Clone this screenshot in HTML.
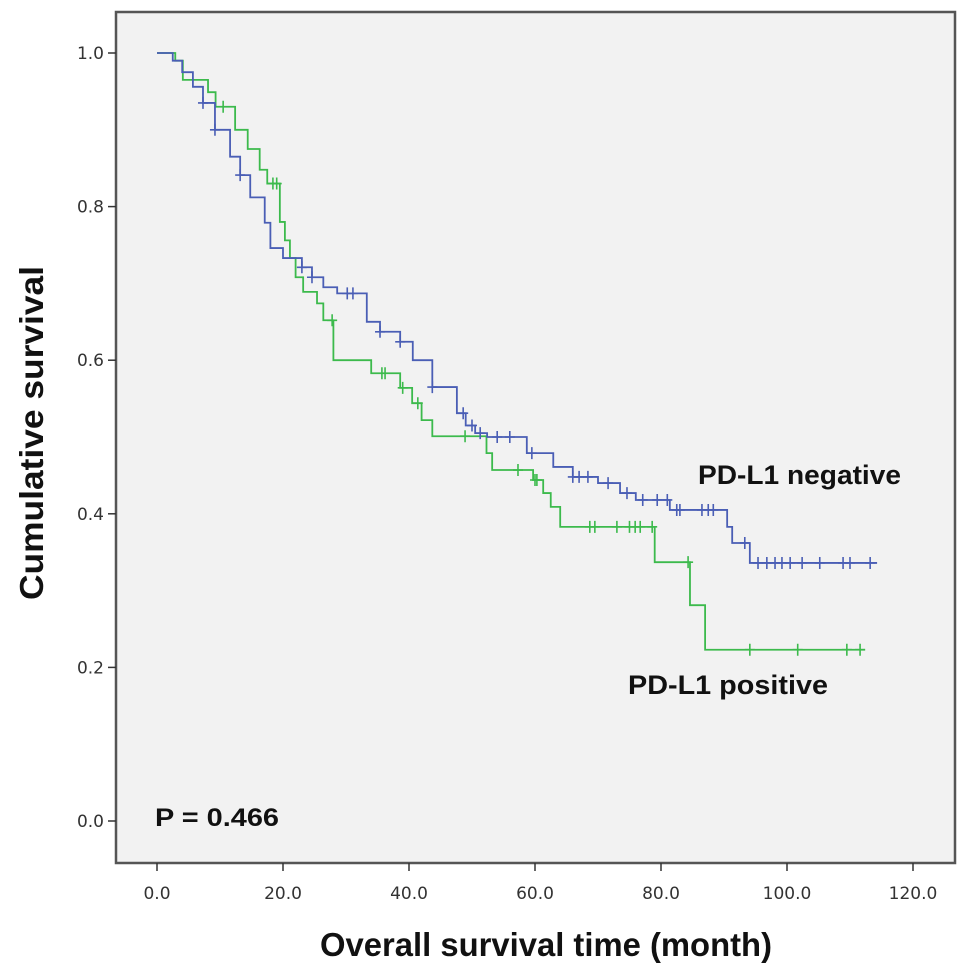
<!DOCTYPE html>
<html><head><meta charset="utf-8">
<style>
html,body{margin:0;padding:0;background:#fff;}
svg{display:block;font-family:"Liberation Sans",sans-serif;}
</style></head>
<body>
<svg id="chart" width="969" height="967" viewBox="0 0 969 967">
<rect x="116" y="12" width="839" height="851" fill="#f2f2f2" stroke="#555" stroke-width="2.5"/>
<g id="axes"></g>
<g id="series"></g>
<text x="698" y="484" font-size="27" font-weight="bold" fill="#111" textLength="203" lengthAdjust="spacingAndGlyphs">PD-L1 negative</text>
<text x="628" y="694" font-size="27" font-weight="bold" fill="#111" textLength="200" lengthAdjust="spacingAndGlyphs">PD-L1 positive</text>
<text x="155" y="826" font-size="25" font-weight="bold" fill="#111" textLength="124" lengthAdjust="spacingAndGlyphs">P = 0.466</text>
<text x="320" y="956" font-size="33" font-weight="bold" fill="#111" textLength="452" lengthAdjust="spacingAndGlyphs">Overall survival time (month)</text>
<text transform="translate(43,600) rotate(-90)" font-size="33" font-weight="bold" fill="#111" textLength="334" lengthAdjust="spacingAndGlyphs">Cumulative survival</text>
</svg>
<script>
const xTicks = [0,20,40,60,80,100,120];
const yTicks = [0,0.2,0.4,0.6,0.8,1.0];
// Negative group: [time, survival] step events
const negTimes = [0,2.5,4,5.7,7.3,9.2,11.6,13.2,14.8,17.1,18,20,23,24.6,26.4,28.6,33.3,35.4,38.6,40.6,43.7,47.6,49,50.5,52.4,58.7,62.9,66,70,73.5,76,81.4,90.5,91.3,94.1];
const negSurv  = [1,0.99,0.975,0.956,0.935,0.9,0.865,0.841,0.812,0.779,0.746,0.733,0.721,0.708,0.695,0.687,0.65,0.637,0.624,0.6,0.565,0.531,0.515,0.505,0.5,0.479,0.461,0.448,0.44,0.427,0.418,0.405,0.383,0.362,0.336];
const negEnd = 114.3;
const negCensor = [7.3,9.2,13.2,23,24.6,30.2,31.1,35.4,38.6,43.7,48.6,50,51.3,54,56,59.5,66,67,68.4,71.6,74.6,77.1,79.4,81,82.5,83,86.5,87.5,88.3,93.3,95.4,96.8,98.1,99.2,100.5,102.4,105.2,108.9,110,113.2];
// Positive group
const posTimes = [0,2.9,4.1,8.1,9.3,12.4,14.4,16.3,17.5,19.5,20.3,21.1,22,23.2,25.4,26.4,28,34,38.6,40.5,42,43.7,52.3,53.2,59.7,61.3,62.5,64,79,84.6,87];
const posSurv  = [1,0.99,0.965,0.949,0.93,0.9,0.875,0.848,0.83,0.78,0.756,0.733,0.708,0.689,0.674,0.652,0.6,0.583,0.564,0.544,0.522,0.501,0.479,0.457,0.444,0.427,0.409,0.383,0.337,0.281,0.223];
const posEnd = 112.4;
const posCensor = [10.5,18.4,19,27.8,35.7,36.2,39,41.4,48.9,57.3,60,60.3,68.7,69.5,73,75,75.9,76.7,78.6,84.3,94.1,101.7,109.5,111.6];

const NS='http://www.w3.org/2000/svg';
const X = t => 157 + t*6.3;
const Y = s => 821 - s*768;
function stepVal(times, surv, t){let v=surv[0];for(let i=0;i<times.length;i++){if(times[i]<=t)v=surv[i];}return v;}

const axes=document.getElementById('axes');
xTicks.forEach(v=>{
  const l=document.createElementNS(NS,'line');
  l.setAttribute('x1',X(v));l.setAttribute('x2',X(v));l.setAttribute('y1',863);l.setAttribute('y2',871);
  l.setAttribute('stroke','#333');l.setAttribute('stroke-width','1.5');
  
  
  axes.appendChild(l);
  const t=document.createElementNS(NS,'text');
  t.setAttribute('x',X(v));t.setAttribute('y',899);t.setAttribute('font-size','17');t.setAttribute('text-anchor','middle');t.setAttribute('fill','#333');
  t.setAttribute('font-family','"DejaVu Sans",sans-serif');
  t.textContent=v.toFixed(1);
  
  
  axes.appendChild(t);
});
yTicks.forEach(v=>{
  const l=document.createElementNS(NS,'line');
  l.setAttribute('x1',108);l.setAttribute('x2',116);l.setAttribute('y1',Y(v));l.setAttribute('y2',Y(v));
  l.setAttribute('stroke','#333');l.setAttribute('stroke-width','1.5');
  
  
  axes.appendChild(l);
  const t=document.createElementNS(NS,'text');
  t.setAttribute('x',104);t.setAttribute('y',Y(v)+6);t.setAttribute('font-size','17');t.setAttribute('text-anchor','end');t.setAttribute('fill','#333');
  t.setAttribute('font-family','"DejaVu Sans",sans-serif');
  t.textContent=v.toFixed(1);
  
  
  axes.appendChild(t);
});

const series=document.getElementById('series');
function drawSeries(times,surv,end,censor,color,name){
  let d='M'+X(times[0])+','+Y(surv[0]);
  for(let i=1;i<times.length;i++){d+=' H'+X(times[i])+' V'+Y(surv[i]);}
  d+=' H'+X(end);
  const p=document.createElementNS(NS,'path');
  p.setAttribute('d',d);p.setAttribute('fill','none');p.setAttribute('stroke',color);p.setAttribute('stroke-width','1.8');
  
  
  series.appendChild(p);
  censor.forEach(c=>{
    const y=Y(stepVal(times,surv,c)), x=X(c);
    const m=document.createElementNS(NS,'path');
    m.setAttribute('d','M'+(x-5)+','+y+' H'+(x+5)+' M'+x+','+(y-6)+' V'+(y+6));
    m.setAttribute('stroke',color);m.setAttribute('stroke-width','1.6');
    
    
    series.appendChild(m);
  });
}
drawSeries(posTimes,posSurv,posEnd,posCensor,'#3cba4c','pd-l1-positive');
drawSeries(negTimes,negSurv,negEnd,negCensor,'#4a5eb5','pd-l1-negative');
</script>
</body></html>
